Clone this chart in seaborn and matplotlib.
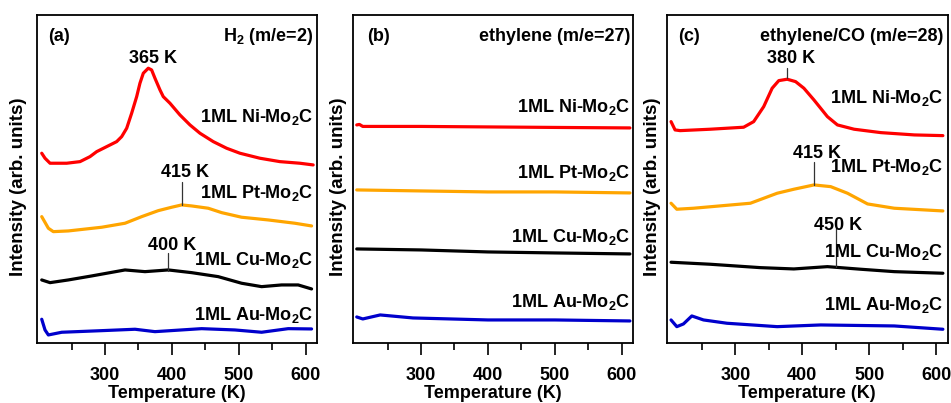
import numpy as np
import pandas as pd
import matplotlib
matplotlib.use("Agg")
import matplotlib.pyplot as plt
from matplotlib.ticker import FixedLocator
import seaborn as sns

# ---------------- data (arbitrary intensity units, offset per curve) ----------------
# Panel (a): H2 (m/e=2)
a_ni_T = [205.5, 210.4, 217.9, 242.8, 262.7, 277.6, 287.6, 302.5, 317.4, 324.9, 332.4,
          339.8, 347.3, 352.2, 357.2, 364.6, 369.6, 374.6, 382.1, 387.0, 397.0, 411.9,
          426.9, 441.8, 461.7, 481.6, 501.5, 531.3, 561.2, 591.0, 610.9]
a_ni_I = [189.7, 184.7, 179.7, 179.7, 181.3, 186.3, 191.3, 196.3, 201.3, 206.3, 214.7,
          229.7, 246.3, 259.7, 269.7, 274.7, 273.0, 264.7, 253.0, 246.3, 239.7, 228.0,
          218.0, 209.7, 201.3, 194.7, 189.7, 184.7, 181.3, 179.7, 178.0]
a_pt_T = [205.5, 215.4, 222.8, 245.2, 295.1, 329.9, 354.8, 379.6, 399.6, 414.5, 429.4,
          454.2, 474.2, 504.0, 543.7, 583.6, 608.5]
a_pt_I = [126.3, 114.7, 111.3, 112.0, 115.7, 119.7, 126.3, 132.3, 135.7, 138.0, 137.0,
          134.7, 130.3, 125.7, 123.0, 119.7, 117.0]
a_cu_T = [205.5, 217.9, 245.2, 280.1, 329.9, 359.7, 394.5, 429.4, 469.1, 504.0, 533.9,
          563.7, 588.5, 608.5]
a_cu_I = [63.0, 60.3, 63.0, 67.0, 73.0, 71.3, 73.0, 70.3, 66.3, 59.7, 56.3, 58.0, 58.0, 54.0]
a_au_T = [205.5, 210.4, 215.4, 235.4, 295.1, 344.8, 374.6, 444.3, 494.0, 533.9, 573.6, 608.5]
a_au_I = [23.7, 13.0, 8.0, 10.7, 12.3, 13.7, 11.3, 14.3, 13.0, 10.7, 14.3, 14.0]

# Panel (b): ethylene (m/e=27)
b_ni_T = [204, 208, 213, 300, 400, 500, 612]
b_ni_I = [218, 218.5, 216.5, 216.5, 216, 215.5, 215]
b_pt_T = [204, 300, 400, 500, 612]
b_pt_I = [153, 152, 151, 151, 150]
b_cu_T = [204, 300, 400, 500, 612]
b_cu_I = [94, 93, 91, 90, 89]
b_au_T = [204, 213, 239, 288, 400, 500, 612]
b_au_I = [26, 24, 28, 25, 23, 23, 22]

# Panel (c): ethylene/CO (m/e=28)
c_ni_T = [204.0, 210.0, 217.5, 262.5, 312.4, 327.4, 342.4, 355.0, 364.9, 377.5, 390.0,
          402.4, 417.4, 437.5, 452.5, 477.4, 517.4, 567.4, 610.0]
c_ni_I = [221.3, 213.0, 212.3, 213.7, 215.7, 221.3, 236.3, 254.7, 262.3, 263.7, 261.3,
          254.7, 243.0, 226.3, 218.0, 213.7, 210.3, 208.0, 207.3]
c_pt_T = [204.0, 212.6, 237.5, 322.5, 362.5, 387.4, 417.4, 442.4, 467.5, 497.5, 537.4, 610.0]
c_pt_I = [139.7, 133.7, 134.7, 139.7, 149.7, 153.7, 158.0, 156.3, 149.7, 139.0, 134.7, 132.0]
c_cu_T = [204.0, 262.5, 337.5, 387.4, 437.5, 487.4, 537.4, 610.0]
c_cu_I = [80.7, 78.7, 75.3, 74.0, 76.3, 73.7, 71.3, 69.7]
c_au_T = [204.0, 212.6, 222.5, 235.0, 252.5, 287.5, 362.5, 427.5, 537.4, 610.0]
c_au_I = [23.0, 16.3, 19.0, 27.0, 23.0, 19.7, 16.3, 18.0, 17.0, 13.7]

samples = ["1ML Ni-Mo$_2$C", "1ML Pt-Mo$_2$C", "1ML Cu-Mo$_2$C", "1ML Au-Mo$_2$C"]
colors = ["#ff0000", "#ffa500", "#000000", "#0000cc"]

panel_letters = ["(a)", "(b)", "(c)"]
panel_titles = ["H$_2$ (m/e=2)", "ethylene (m/e=27)", "ethylene/CO (m/e=28)"]

major_ticks = [300, 400, 500, 600]
minor_ticks = [250, 350, 450, 550]

# sample-label baselines per panel (same units as intensity)
label_y = [
    [221, 145, 78, 23],
    [231, 165, 101, 36],
    [240, 171, 86, 33],
]
# peak annotations: (text, text x, text baseline, line x, line y0, line y1)
peaks = [
    [("365 K", 371, 280, None, None, None),
     ("415 K", 419, 166, 414.5, 138, 161),
     ("400 K", 400, 93, 394.5, 72, 90)],
    [],
    [("380 K", 383, 280, 377.5, 264.7, 274.7),
     ("415 K", 422.5, 185, 417.4, 158, 181),
     ("450 K", 453.7, 113, 450, 76, 115)],
]

panels = [
    [(a_ni_T, a_ni_I), (a_pt_T, a_pt_I), (a_cu_T, a_cu_I), (a_au_T, a_au_I)],
    [(b_ni_T, b_ni_I), (b_pt_T, b_pt_I), (b_cu_T, b_cu_I), (b_au_T, b_au_I)],
    [(c_ni_T, c_ni_I), (c_pt_T, c_pt_I), (c_cu_T, c_cu_I), (c_au_T, c_au_I)],
]

# ---------------- style ----------------
sns.set_theme(style="ticks")
plt.rcParams["font.family"] = ["Liberation Sans", "DejaVu Sans"]
plt.rcParams["font.weight"] = "bold"
plt.rcParams["axes.labelweight"] = "bold"
plt.rcParams["text.color"] = "black"
plt.rcParams["axes.labelcolor"] = "black"
plt.rcParams["xtick.color"] = "black"
plt.rcParams["xtick.labelcolor"] = "black"
plt.rcParams["mathtext.fontset"] = "custom"
plt.rcParams["mathtext.rm"] = "Liberation Sans:bold"
plt.rcParams["mathtext.it"] = "Liberation Sans:bold"
plt.rcParams["mathtext.bf"] = "Liberation Sans:bold"
plt.rcParams["mathtext.default"] = "bf"

FS = 13
fig = plt.figure(figsize=(9.51, 4.03), dpi=100)
lefts = [0.0386, 0.3709, 0.7014]
bottom, height, width = 0.149, 0.814, 0.295
letter_x = [0.04, 0.051, 0.04]
right_x = [0.985, 0.988, 0.985]
ylabel_x = [-0.036, -0.022, -0.02]

for i, curves in enumerate(panels):
    ax = fig.add_axes([lefts[i], bottom, width, height])
    for (T, I), col in zip(curves, colors):
        df = pd.DataFrame({"T": T, "I": I})
        sns.lineplot(data=df, x="T", y="I", ax=ax, color=col, lw=2.3,
                     sort=False, estimator=None)
    ax.set_xlim(198, 617)
    ax.set_ylim(0, 328)
    ax.set_yticks([])
    ax.xaxis.set_major_locator(FixedLocator(major_ticks))
    ax.xaxis.set_minor_locator(FixedLocator(minor_ticks))
    ax.tick_params(axis="x", which="major", direction="out", length=8.5, width=1.2,
                   labelsize=FS, pad=9, color="black", labelcolor="black")
    ax.tick_params(axis="x", which="minor", direction="out", length=5, width=1.2,
                   color="black")
    for lab in ax.get_xticklabels():
        lab.set_fontweight("bold")
    for s in ax.spines.values():
        s.set_linewidth(1.3)
        s.set_color("black")
    ax.set_xlabel("Temperature (K)", fontsize=FS, fontweight="bold", labelpad=0.5,
                  color="black")
    ax.set_ylabel("Intensity (arb. units)", fontsize=13.5, fontweight="bold",
                  color="black")
    ax.yaxis.set_label_coords(ylabel_x[i], 0.475)

    ax.text(letter_x[i], 302, panel_letters[i], transform=ax.get_yaxis_transform(),
            fontsize=FS, fontweight="bold", ha="left", va="baseline", color="black")
    ax.text(right_x[i], 302, panel_titles[i], transform=ax.get_yaxis_transform(),
            fontsize=FS, fontweight="bold", ha="right", va="baseline", color="black")
    for name, y in zip(samples, label_y[i]):
        ax.text(right_x[i], y, name, transform=ax.get_yaxis_transform(), fontsize=FS,
                fontweight="bold", ha="right", va="baseline", color="black")
    for (txt, tx, ty, lx, ly0, ly1) in peaks[i]:
        ax.text(tx, ty, txt, fontsize=FS, fontweight="bold", ha="center",
                va="baseline", color="black")
        if lx is not None:
            ax.plot([lx, lx], [ly0, ly1], color="#333333", lw=0.9)

fig.savefig("out.png", dpi=100)
